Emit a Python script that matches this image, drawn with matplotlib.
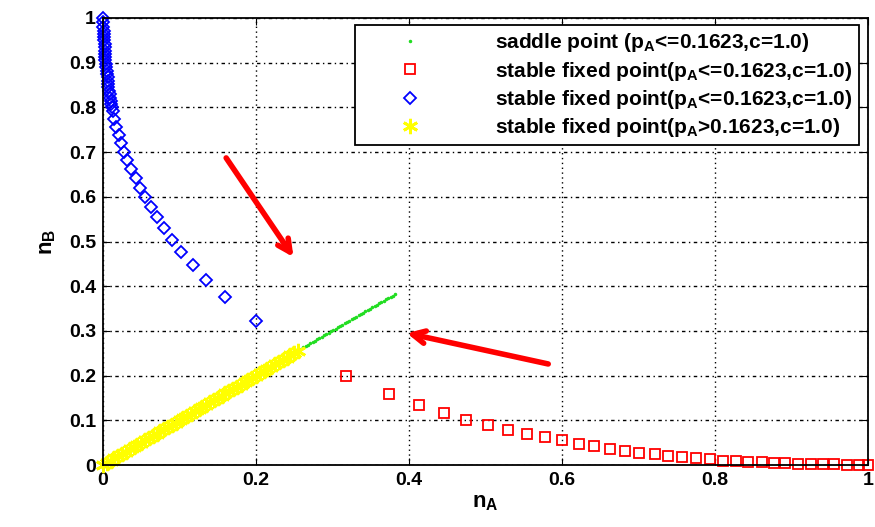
import matplotlib
matplotlib.use("Agg")
import matplotlib.pyplot as plt

plt.rcParams["font.family"] = ["Liberation Sans", "DejaVu Sans"]
plt.rcParams["font.weight"] = "bold"
plt.rcParams["mathtext.fontset"] = "custom"
plt.rcParams["mathtext.rm"] = "Liberation Sans:bold"
plt.rcParams["mathtext.it"] = "Liberation Sans:bold"
plt.rcParams["mathtext.bf"] = "Liberation Sans:bold"

# stable fixed points, p_A <= 0.1623 (red squares)
red_nA = [0.318, 0.374, 0.413, 0.446, 0.475, 0.503, 0.529, 0.554, 0.578, 0.600,
          0.622, 0.642, 0.663, 0.683, 0.701, 0.721, 0.739, 0.757, 0.775, 0.793,
          0.810, 0.828, 0.843, 0.861, 0.877, 0.892, 0.909, 0.925, 0.941, 0.956,
          0.972, 0.988, 1.000]
red_nB = [0.199, 0.159, 0.135, 0.117, 0.101, 0.090, 0.079, 0.070, 0.063, 0.055,
          0.047, 0.043, 0.036, 0.031, 0.027, 0.024, 0.021, 0.017, 0.015, 0.013,
          0.010, 0.008, 0.007, 0.006, 0.005, 0.004, 0.003, 0.002, 0.002, 0.0015,
          0.001, 0.001, 0.001]

# stable fixed points, p_A <= 0.1623 (blue diamonds, denser near n_B = 1)
blue_nA = [0.200, 0.160, 0.135, 0.118, 0.102, 0.090, 0.080, 0.071, 0.063, 0.055,
           0.048, 0.043, 0.036, 0.031, 0.027, 0.024, 0.021, 0.017, 0.015, 0.013,
           0.012, 0.011, 0.010, 0.009, 0.009, 0.008, 0.007, 0.007, 0.006, 0.006,
           0.005, 0.005, 0.004, 0.004, 0.003, 0.003, 0.003, 0.002, 0.002, 0.002,
           0.001, 0.001, 0.001, 0.001, 0.000, 0.000, 0.000]
blue_nB = [0.322, 0.375, 0.413, 0.447, 0.476, 0.503, 0.530, 0.555, 0.578, 0.600,
           0.620, 0.642, 0.663, 0.683, 0.701, 0.721, 0.739, 0.757, 0.775, 0.793,
           0.800, 0.807, 0.815, 0.822, 0.830, 0.837, 0.845, 0.852, 0.860, 0.867,
           0.875, 0.882, 0.890, 0.897, 0.905, 0.912, 0.920, 0.927, 0.935, 0.942,
           0.950, 0.957, 0.965, 0.972, 0.980, 0.990, 1.000]

# stable fixed points, p_A > 0.1623 (yellow asterisks along the diagonal)
yellow_nA = [0.000, 0.005, 0.010, 0.015, 0.020, 0.025, 0.030, 0.035, 0.040, 0.045,
             0.050, 0.055, 0.060, 0.065, 0.070, 0.075, 0.080, 0.085, 0.090, 0.095,
             0.100, 0.105, 0.110, 0.115, 0.120, 0.125, 0.130, 0.135, 0.140, 0.145,
             0.150, 0.155, 0.160, 0.165, 0.170, 0.175, 0.180, 0.185, 0.190, 0.195,
             0.200, 0.205, 0.210, 0.215, 0.220, 0.225, 0.230, 0.235, 0.240, 0.245,
             0.250, 0.255]
yellow_nB = [0.000, 0.005, 0.010, 0.015, 0.020, 0.025, 0.030, 0.035, 0.040, 0.045,
             0.050, 0.055, 0.060, 0.065, 0.070, 0.075, 0.080, 0.085, 0.090, 0.095,
             0.100, 0.105, 0.110, 0.115, 0.120, 0.125, 0.130, 0.135, 0.140, 0.145,
             0.150, 0.155, 0.160, 0.165, 0.170, 0.175, 0.180, 0.185, 0.190, 0.195,
             0.200, 0.205, 0.210, 0.215, 0.220, 0.225, 0.230, 0.235, 0.240, 0.245,
             0.251, 0.256]

# saddle points (green dots, packed so tightly they read as a line)
green_nA = [0.256, 0.259, 0.262, 0.265, 0.268, 0.271, 0.274, 0.277, 0.280, 0.283,
            0.286, 0.289, 0.292, 0.295, 0.298, 0.301, 0.304, 0.307, 0.310, 0.313,
            0.316, 0.319, 0.322, 0.325, 0.328, 0.331, 0.334, 0.337, 0.340, 0.343,
            0.346, 0.349, 0.352, 0.355, 0.358, 0.361, 0.364, 0.367, 0.370, 0.373,
            0.376, 0.379, 0.382]
green_nB = [0.257, 0.260, 0.263, 0.266, 0.269, 0.272, 0.275, 0.278, 0.281, 0.284,
            0.287, 0.290, 0.293, 0.296, 0.299, 0.302, 0.305, 0.308, 0.311, 0.314,
            0.317, 0.320, 0.323, 0.326, 0.329, 0.332, 0.335, 0.338, 0.341, 0.344,
            0.347, 0.350, 0.353, 0.356, 0.359, 0.362, 0.365, 0.368, 0.371, 0.374,
            0.376, 0.379, 0.382]

# red annotation arrows: (tail, head)
arrows = [((0.161, 0.687), (0.249, 0.465)),
          ((0.582, 0.226), (0.397, 0.295))]

xticks = [0, 0.2, 0.4, 0.6, 0.8, 1]
xticklabels = ["0", "0.2", "0.4", "0.6", "0.8", "1"]
yticks = [0, 0.1, 0.2, 0.3, 0.4, 0.5, 0.6, 0.7, 0.8, 0.9, 1]
yticklabels = ["0", "0.1", "0.2", "0.3", "0.4", "0.5", "0.6", "0.7", "0.8", "0.9", "1"]

fig = plt.figure(figsize=(8.75, 5.27), dpi=100)
ax = fig.add_axes([103 / 875, (527 - 465) / 527, 765 / 875, 447 / 527])

ax.plot(green_nA, green_nB, ".", color="#22dd22", markersize=3,
        label="saddle point (p$_A$<=0.1623,c=1.0)", clip_on=False)
ax.plot(red_nA, red_nB, "s", mfc="none", mec="red", markersize=7, mew=1.3,
        label="stable fixed point(p$_A$<=0.1623,c=1.0)", clip_on=False)
ax.plot(blue_nA, blue_nB, "D", mfc="none", mec="blue", markersize=6.5, mew=1.3,
        label="stable fixed point(p$_A$<=0.1623,c=1.0)", clip_on=False)
ax.plot(yellow_nA, yellow_nB, marker=(6, 2, 0), ls="none", color="yellow",
        markersize=11, mew=2,
        label="stable fixed point(p$_A$>0.1623,c=1.0)", clip_on=False)

for (tail, head) in arrows:
    ax.annotate("", xy=head, xytext=tail,
                arrowprops=dict(arrowstyle="->,head_length=0.9,head_width=0.45",
                                color="red", lw=4, shrinkA=0, shrinkB=0))

ax.set_xlim(0, 1)
ax.set_ylim(0, 1)
ax.set_xticks(xticks)
ax.set_xticklabels(xticklabels)
ax.set_yticks(yticks)
ax.set_yticklabels(yticklabels)
ax.tick_params(direction="in", top=True, right=True, length=5, labelsize=14, pad=5)
for lab in ax.get_xticklabels() + ax.get_yticklabels():
    lab.set_fontweight("bold")
ax.xaxis.grid(True, color="black", ls=(0, (1, 2.5)), lw=1.0)
ax.yaxis.grid(True, color="black", ls=(0, (2.5, 2.5, 1, 2.5)), lw=1.0)
for sp in ax.spines.values():
    sp.set_linewidth(1.3)

ax.set_xlabel("n$_A$", fontsize=16, fontweight="bold", labelpad=2)
ax.set_ylabel("n$_B$", fontsize=16, fontweight="bold", labelpad=8)

leg = ax.legend(loc="upper right", bbox_to_anchor=(0.988, 0.984), fontsize=15,
                fancybox=False, framealpha=1, edgecolor="black",
                borderpad=0.3, labelspacing=0.25, handletextpad=1.8,
                handlelength=4.6, borderaxespad=0)
leg.get_frame().set_linewidth(1.3)
for t in leg.get_texts():
    t.set_fontweight("bold")

fig.savefig("out.png", dpi=100)
